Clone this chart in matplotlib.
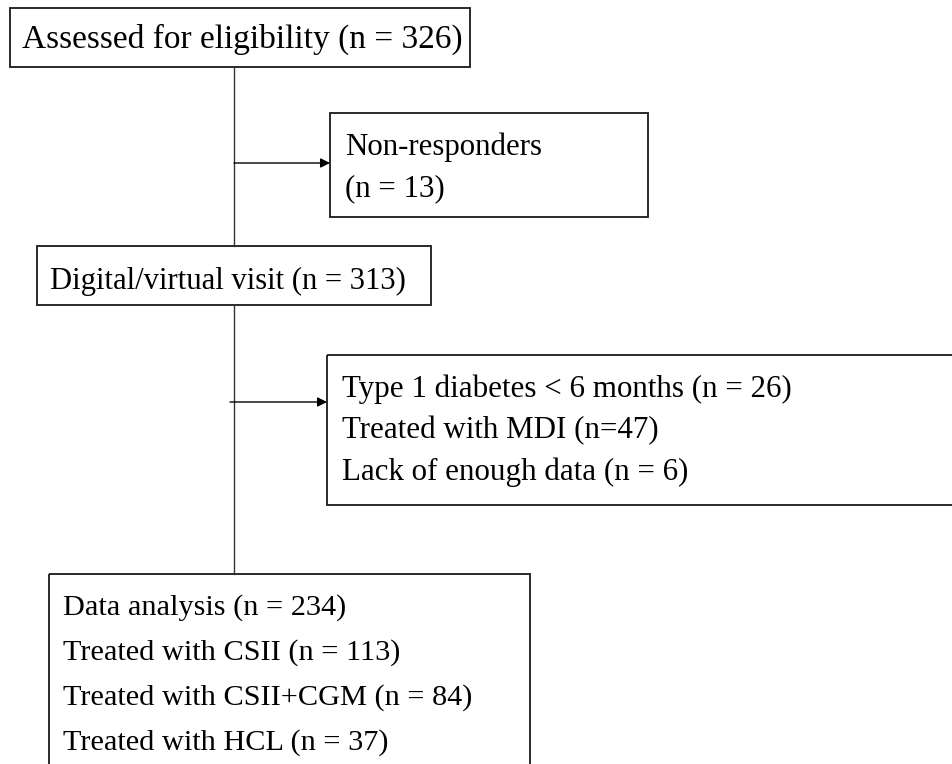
import matplotlib.pyplot as plt
from matplotlib.patches import Rectangle

plt.rcParams['font.family'] = ['Liberation Serif', 'DejaVu Serif']

# box texts, one list per box
assessed = ["Assessed for eligibility (n = 326)"]
non_resp = ["Non-responders", "(n = 13)"]
visit = ["Digital/virtual visit (n = 313)"]
excluded = ["Type 1 diabetes < 6 months (n = 26)",
            "Treated with MDI (n=47)",
            "Lack of enough data (n = 6)"]
analysis = ["Data analysis (n = 234)",
            "Treated with CSII (n = 113)",
            "Treated with CSII+CGM (n = 84)",
            "Treated with HCL (n = 37)"]

W, H = 953, 764
fig = plt.figure(figsize=(W / 100, H / 100), dpi=100)
ax = fig.add_axes([0, 0, 1, 1])
ax.set_xlim(0, W)
ax.set_ylim(H, 0)
ax.axis('off')


def box(x0, y0, x1, y1, lines, tx, ty, fs, step=41):
    ax.add_patch(Rectangle((x0, y0), x1 - x0, y1 - y0, fill=False,
                           edgecolor='#1a1a1a', lw=1.3, clip_on=False))
    for i, s in enumerate(lines):
        ax.text(tx, ty + i * step, s, fontsize=fs, ha='left', va='baseline',
                color='black')


box(10, 8, 470, 67, assessed, 22, 48, 24)
box(330, 113, 648, 217, non_resp, 345, 155, 22.2)
box(37, 246, 431, 305, visit, 50, 289, 22.1)
box(327, 355, 960, 505, excluded, 342, 397, 22.3, step=41.5)
box(49, 574, 530, 790, analysis, 63, 615, 21.8, step=45)

# connectors
ax.plot([234, 234], [67, 246], color='#333333', lw=1)
ax.annotate('', xy=(330, 163), xytext=(234, 163),
            arrowprops=dict(arrowstyle='-|>', color='black', lw=1,
                            mutation_scale=14, shrinkA=0, shrinkB=0))
ax.plot([234, 234], [305, 574], color='#333333', lw=1)
ax.annotate('', xy=(327, 402), xytext=(230, 402),
            arrowprops=dict(arrowstyle='-|>', color='black', lw=1,
                            mutation_scale=14, shrinkA=0, shrinkB=0))

fig.savefig('out.png', dpi=100)
